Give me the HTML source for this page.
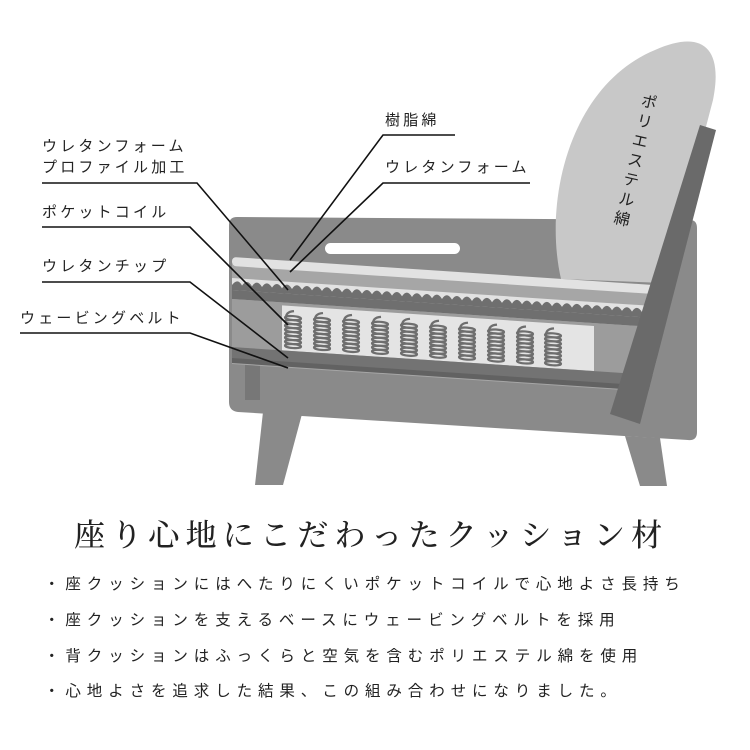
<!DOCTYPE html>
<html><head><meta charset="utf-8"><style>
html,body{margin:0;padding:0;background:#fff}
body{width:750px;height:750px;position:relative;overflow:hidden;font-family:"Liberation Sans","Noto Sans CJK JP",sans-serif;color:#222}
.t{position:absolute;font-size:15px;letter-spacing:3.2px;white-space:nowrap;line-height:18px}
.title{position:absolute;left:74px;top:510px;font-family:"Liberation Serif","Noto Serif CJK JP",serif;font-size:31px;letter-spacing:6.2px;white-space:nowrap;color:#222;font-weight:500}
.b{position:absolute;left:44px;font-size:15.5px;letter-spacing:5.9px;white-space:nowrap;line-height:20px}
.v{position:absolute;left:636px;top:93px;writing-mode:vertical-rl;font-size:16px;letter-spacing:4px;transform:rotate(13deg);transform-origin:top center;color:#222}
</style></head><body>
<svg width="750" height="750" style="position:absolute;left:0;top:0">
<defs><clipPath id="cl"><polygon points="200,200 716,130 640,424 200,424"/></clipPath></defs>
<!-- legs -->
<polygon points="263,412 302,414 283,485 255,485" fill="#8a8a8a"/>
<polygon points="625,436 660,438 667,486 640,486" fill="#8a8a8a"/>
<!-- body -->
<path d="M237,217 L690,220 Q697,220 697,228 L697,432 Q697,441 688,440 L238,412 Q229,411 229,402 L229,225 Q229,217 237,217Z" fill="#8a8a8a"/>
<!-- back cushion -->
<path d="M561,279 C543,200 570,85 655,50 C700,30 724,45 713,100 L665,283 Z" fill="#c8c8c8"/>
<!-- slot -->
<rect x="325" y="243" width="135" height="11" rx="5.5" fill="#fff"/>
<!-- dark post -->
<rect x="245" y="360" width="15" height="40" fill="#777"/>
<g clip-path="url(#cl)">
<g transform="translate(232,0) skewY(3.8) translate(-232,0)">
 <rect x="232" y="264" width="425" height="100" fill="#a6a6a6"/>
 <rect x="232" y="257" width="425" height="9" rx="4" fill="#e2e2e2"/>
 <rect x="232" y="278" width="425" height="12" fill="#e2e2e2"/>
 <rect x="232" y="290" width="425" height="9" fill="#6f6f6f"/>
 <g fill="#6f6f6f">
  <path d="M232,290 L232,285 q6,-8 10,0 q5,-8 10,0 q5,-8 10,0 q5,-8 10,0 q5,-8 10,0 q5,-8 10,0 q5,-8 10,0 q5,-8 10,0 q5,-8 10,0 q5,-8 10,0 q5,-8 10,0 q5,-8 10,0 q5,-8 10,0 q5,-8 10,0 q5,-8 10,0 q5,-8 10,0 q5,-8 10,0 q5,-8 10,0 q5,-8 10,0 q5,-8 10,0 q5,-8 10,0 q5,-8 10,0 q5,-8 10,0 q5,-8 10,0 q5,-8 10,0 q5,-8 10,0 q5,-8 10,0 q5,-8 10,0 q5,-8 10,0 q5,-8 10,0 q5,-8 10,0 q5,-8 10,0 q5,-8 10,0 q5,-8 10,0 q5,-8 10,0 q5,-8 10,0 q5,-8 10,0 q5,-8 10,0 q5,-8 10,0 q5,-8 10,0 q5,-8 10,0 q5,-8 10,0 q5,-8 10,0 L657,290Z"/>
 </g>
 <rect x="232" y="299" width="425" height="48" fill="#9c9c9c"/>
 <rect x="282" y="302" width="312" height="45" fill="#e4e4e4"/>
 <rect x="232" y="347" width="425" height="12" fill="#737373"/>
 <rect x="232" y="358" width="425" height="5" fill="#626262"/>
 <g fill="none" stroke="#6e6e6e" stroke-width="2.2">
  <g id="c"><path d="M286,316 q-1,-8 8,-9"/>
   <ellipse cx="293" cy="314" rx="8" ry="2"/><ellipse cx="293" cy="318" rx="8" ry="2"/><ellipse cx="293" cy="322" rx="8" ry="2"/><ellipse cx="293" cy="326" rx="8" ry="2"/><ellipse cx="293" cy="330" rx="8" ry="2"/><ellipse cx="293" cy="334" rx="8" ry="2"/><ellipse cx="293" cy="338" rx="8" ry="2"/><ellipse cx="293" cy="342" rx="8" ry="2"/></g>
  <use href="#c" x="29"/><use href="#c" x="58"/><use href="#c" x="87"/><use href="#c" x="116"/><use href="#c" x="145"/><use href="#c" x="174"/><use href="#c" x="203"/><use href="#c" x="232"/><use href="#c" x="260"/>
 </g>
</g>
</g>
<!-- back frame bar -->
<polygon points="700,125 716,130 640,424 610,414" fill="#6a6a6a"/>
<!-- leader lines -->
<g stroke="#111" stroke-width="1.6" fill="none">
 <polyline points="42,183 197,183 288,290"/>
 <polyline points="42,227 190,227 288,325"/>
 <polyline points="42,282 190,282 288,358"/>
 <polyline points="20,333 190,333 288,368"/>
 <polyline points="455,135 383,135 290,260"/>
 <polyline points="530,183 383,183 290,272"/>
</g>
</svg>
<div class="t" style="left:42px;top:138px">ウレタンフォーム</div>
<div class="t" style="left:42px;top:159px">プロファイル加工</div>
<div class="t" style="left:42px;top:204px">ポケットコイル</div>
<div class="t" style="left:42px;top:258px">ウレタンチップ</div>
<div class="t" style="left:20px;top:310px">ウェービングベルト</div>
<div class="t" style="left:385px;top:112px">樹脂綿</div>
<div class="t" style="left:385px;top:159px">ウレタンフォーム</div>
<div class="v">ポリエステル綿</div>
<div class="title">座り心地にこだわったクッション材</div>
<div class="b" style="top:575px">・座クッションにはへたりにくいポケットコイルで心地よさ長持ち</div>
<div class="b" style="top:611px">・座クッションを支えるベースにウェービングベルトを採用</div>
<div class="b" style="top:647px">・背クッションはふっくらと空気を含むポリエステル綿を使用</div>
<div class="b" style="top:682px">・心地よさを追求した結果、この組み合わせになりました。</div>
</body></html>
